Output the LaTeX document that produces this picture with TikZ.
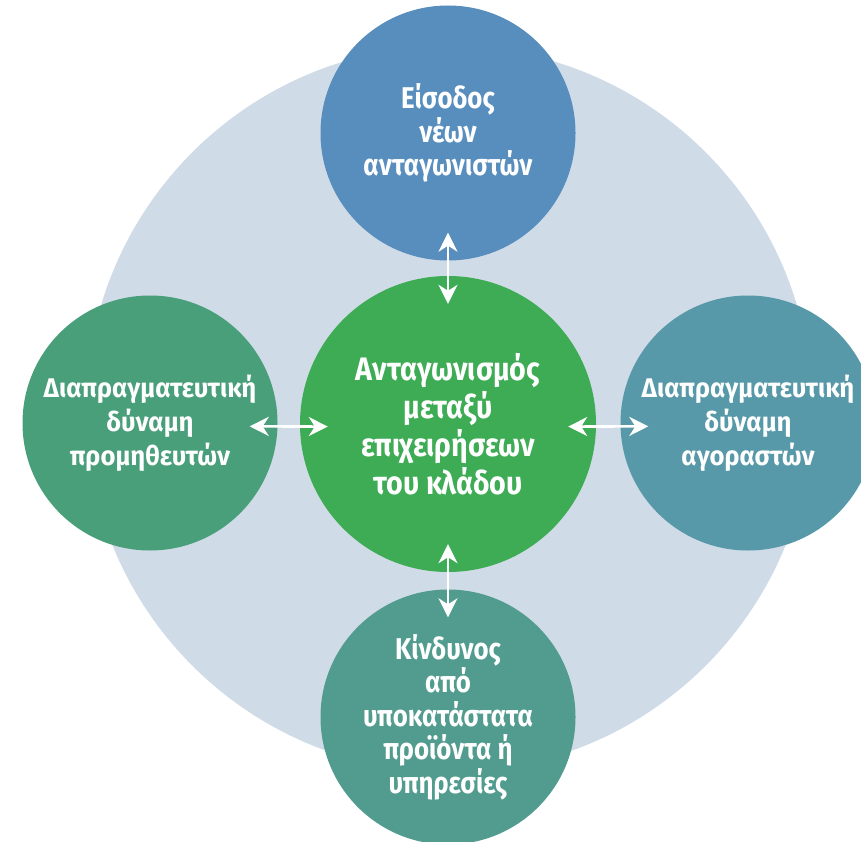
\documentclass[tikz,border=0pt]{standalone}
\usepackage{fontspec}
\setmainfont{Fira Sans}
\usetikzlibrary{arrows.meta}
\definecolor{ringgrey}{HTML}{CFDBE7}
\definecolor{rivalgreen}{HTML}{3EAB55}
\definecolor{entryblue}{HTML}{588EBD}
\definecolor{supplygreen}{HTML}{4A9F7B}
\definecolor{buyteal}{HTML}{5799A8}
\definecolor{substteal}{HTML}{519C8F}
\tikzset{
  force/.style={circle, minimum size=255pt, inner sep=0pt, text=white, align=center,
    font=\bfseries\addfontfeatures{FakeStretch=0.86}\fontsize{30}{33.5}\selectfont},
  side/.style={force, font=\bfseries\addfontfeatures{FakeStretch=0.95}\fontsize{27}{34}\selectfont},
  rivalry/.style={force, minimum size=296pt,
    font=\bfseries\addfontfeatures{FakeStretch=0.88}\fontsize{32.5}{38}\selectfont},
  link/.style={white, line width=2.6pt,
    {Stealth[length=19pt,width=19pt,inset=6pt]}-{Stealth[length=19pt,width=19pt,inset=6pt]},
    shorten <=-28pt, shorten >=-28pt}
}
\begin{document}
\begin{tikzpicture}[x=1pt,y=-1pt]
      \useasboundingbox (0,0) rectangle (861,842);
      \fill[ringgrey] (449,409) circle (363);
      \draw
        (448,424) node[rivalry, fill=rivalgreen] (0){Ανταγωνισμός\\μεταξύ\\επιχειρήσεων\\του κλάδου}
        (448,133) node[force, fill=entryblue] (1){Είσοδος\\νέων\\ανταγωνιστών}
        (150,423) node[side, fill=supplygreen] (2){Διαπραγματευτική\\δύναμη\\προμηθευτών}
        (748,423) node[side, fill=buyteal] (3){Διαπραγματευτική\\δύναμη\\αγοραστών}
        (448,717) node[force, fill=substteal] (4){Κίνδυνος\\από\\υποκατάστατα\\προϊόντα ή\\υπηρεσίες};
      \begin{scope}[link]
        \draw (1) to (0);
        \draw (0) to (4);
        \draw[transform canvas={yshift=-3pt}] (2) to (0);
        \draw[transform canvas={yshift=-3pt}] (0) to (3);
      \end{scope}
    \end{tikzpicture}
\end{document}
